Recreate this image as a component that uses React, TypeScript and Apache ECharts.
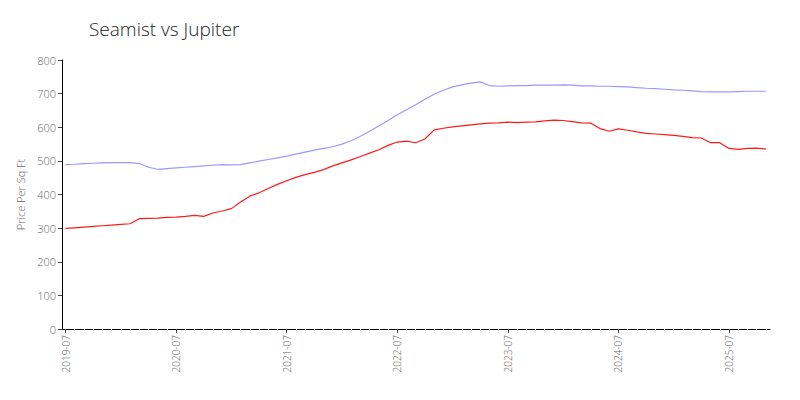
import React, { useEffect, useRef } from "react";
import * as echarts from "echarts";

// month index 0 = 2019-07
const startYear = 2019;
const tickMonths = [0, 12, 24, 36, 48, 60, 72];
const yTicks = [0, 100, 200, 300, 400, 500, 600, 700, 800];

const seamist = [
  299, 301, 303, 305, 307, 309, 311, 313, 328, 329,
  330, 332, 333, 335, 338, 335, 345, 351, 358, 378,
  395, 405, 418, 430, 441, 451, 459, 466, 474, 485,
  494, 503, 513, 523, 533, 546, 556, 559, 554, 565,
  592, 597, 601, 604, 607, 610, 612, 613, 615, 614,
  615, 616, 619, 621, 620, 617, 613, 612, 596, 588,
  595, 591, 586, 582, 580, 578, 576, 573, 569, 568,
  554, 554, 537, 534, 537, 538, 535,
];

const jupiter = [
  489, 490, 492, 493, 494, 495, 495, 495, 492, 481,
  475, 477, 479, 481, 483, 485, 487, 489, 488, 489,
  494, 499, 504, 509, 514, 520, 526, 532, 537, 542,
  550, 560, 573, 588, 604, 620, 637, 652, 667, 683,
  698, 710, 720, 726, 731, 735, 724, 722, 723, 724,
  724, 725, 725, 725, 726, 725, 723, 723, 722, 722,
  721, 720, 718, 716, 715, 713, 711, 710, 708, 706,
  705, 705, 705, 706, 707, 707, 707,
];

const FONT = "'Open Sans', sans-serif";

export default function App() {
  const ref = useRef<HTMLDivElement>(null);
  useEffect(() => {
    if (!ref.current) return;
    const chart = echarts.init(ref.current, undefined, { renderer: "svg" });
    const monthTicks = seamist.map((_, i) => i).filter((i) => i % 12 !== 0);
    chart.setOption({
      animation: false,
      backgroundColor: "#fff",
      textStyle: { fontFamily: FONT, fontWeight: 300 },
      title: {
        text: "Seamist vs Jupiter",
        left: 84,
        top: 14,
        textStyle: { fontFamily: FONT, fontWeight: 300, fontSize: 19, color: "#222" },
      },
      grid: { left: 62, right: 30, top: 60, bottom: 71, containLabel: false },
      xAxis: [
        {
          type: "value",
          min: -0.38,
          max: 76.45,
          position: "bottom",
          splitLine: { show: false },
          axisLine: { show: true, onZero: false, lineStyle: { color: "#000", width: 1 } },
          axisTick: {
            show: true,
            customValues: tickMonths,
            length: 4,
            lineStyle: { color: "#444" },
          },
          axisLabel: {
            customValues: tickMonths,
            rotate: 90,
            color: "#666",
            fontSize: 10,
            fontFamily: FONT,
            fontWeight: 300,
            margin: 6,
            formatter: (v: number) => `${startYear + Math.round(v / 12)}-07`,
          },
        },
        {
          type: "value",
          min: -0.38,
          max: 76.45,
          position: "bottom",
          splitLine: { show: false },
          axisLine: { show: false, onZero: false },
          axisLabel: { show: false },
          axisTick: {
            show: true,
            customValues: monthTicks,
            length: 2,
            lineStyle: { color: "#dedede", width: 1 },
          },
        },
      ],
      yAxis: {
        type: "value",
        min: 0,
        max: 800,
        interval: 100,
        name: "Price Per Sq Ft",
        nameLocation: "middle",
        nameGap: 26,
        nameTextStyle: { color: "#666", fontSize: 11, fontFamily: FONT, fontWeight: 300 },
        splitLine: { show: false },
        axisLine: { show: true, onZero: false, lineStyle: { color: "#000", width: 1 } },
        axisTick: { show: true, length: 4, lineStyle: { color: "#444" } },
        axisLabel: {
          color: "#666",
          fontSize: 11,
          fontFamily: FONT,
          fontWeight: 300,
          margin: 6,
          customValues: yTicks,
        },
      },
      series: [
        {
          name: "Jupiter",
          type: "line",
          xAxisIndex: 0,
          data: jupiter.map((v, i) => [i, v]),
          showSymbol: false,
          lineStyle: { color: "#9999ff", width: 1.2 },
          itemStyle: { color: "#9999ff" },
        },
        {
          name: "Seamist",
          type: "line",
          xAxisIndex: 0,
          data: seamist.map((v, i) => [i, v]),
          showSymbol: false,
          lineStyle: { color: "#ff1a1a", width: 1.2 },
          itemStyle: { color: "#ff1a1a" },
        },
      ],
    });
    return () => chart.dispose();
  }, []);
  return (
    <div
      ref={ref}
      style={{ position: "fixed", left: 0, top: 0, width: 800, height: 400 }}
    />
  );
}
